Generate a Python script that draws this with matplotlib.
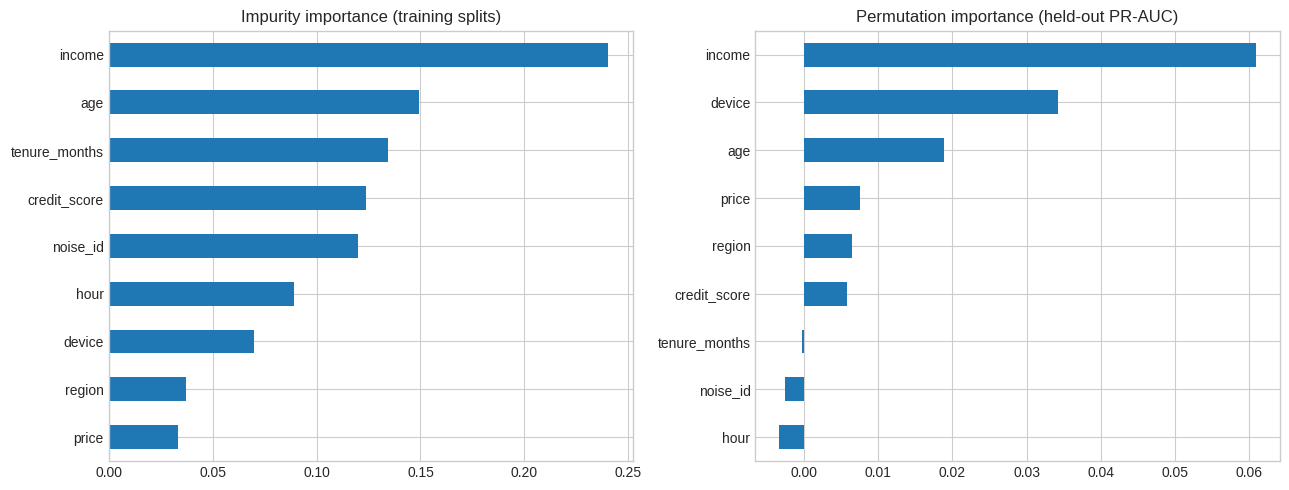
import matplotlib
matplotlib.use("Agg")
import matplotlib.pyplot as plt
import numpy as np

plt.style.use("seaborn-v0_8-whitegrid")

imp_features = ["price", "region", "device", "hour", "noise_id", "credit_score",
                "tenure_months", "age", "income"]
imp_values = [0.0332, 0.0371, 0.0698, 0.0891, 0.1199, 0.1238, 0.1344, 0.1493, 0.2404]

perm_features = ["hour", "noise_id", "tenure_months", "credit_score", "region",
                 "price", "age", "device", "income"]
perm_values = [-0.0034, -0.0026, -0.00035, 0.0058, 0.0065, 0.00745, 0.0188, 0.0343, 0.0610]

W, H = 1289, 490
fig, axes = plt.subplots(1, 2, figsize=(W / 100, H / 100), dpi=100)
bottom = 1 - 461.0 / H
height = (461.0 - 30.7) / H
axes[0].set_position([108.7 / W, bottom, (633.3 - 108.7) / W, height])
axes[1].set_position([755.3 / W, bottom, (1280.0 - 755.3) / W, height])
color = "#1f77b4"

for ax, feats, vals, title in [
    (axes[0], imp_features, imp_values, "Impurity importance (training splits)"),
    (axes[1], perm_features, perm_values, "Permutation importance (held-out PR-AUC)"),
]:
    y = np.arange(len(feats))
    ax.barh(y, vals, height=0.5, color=color)
    ax.set_yticks(y)
    ax.set_yticklabels(feats)
    ax.set_ylim(-0.5, len(feats) - 0.5)
    ax.set_title(title, fontsize=12)
    for s in ax.spines.values():
        s.set_visible(True)
        s.set_color("#cccccc")
        s.set_linewidth(1.0)

fig.savefig("out.png", dpi=100)
